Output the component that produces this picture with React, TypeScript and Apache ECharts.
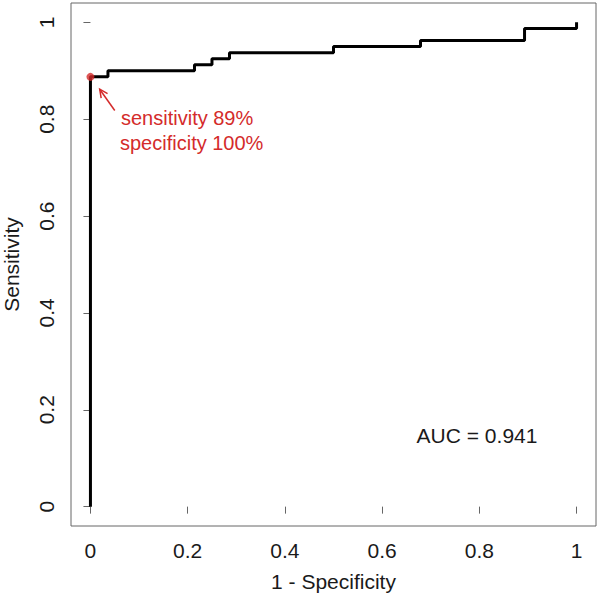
import React, { useEffect, useRef } from "react";
import * as echarts from "echarts";

// ROC curve corner points (step curve, horizontal then vertical)
const fpr = [0, 0, 0.036, 0.214, 0.25, 0.286, 0.5, 0.679, 0.893, 1];
const tpr = [0, 0.8875, 0.9, 0.9125, 0.925, 0.9375, 0.95, 0.9625, 0.9875, 1];
const tickValues = [0, 0.2, 0.4, 0.6, 0.8, 1];
const bestPoint = [0, 0.8875];
const bestLabel = ["sensitivity 89%", "specificity 100%"];
const aucLabel = "AUC = 0.941";
const arrowTail = [0.05, 0.818];
const arrowHead = [0.019, 0.862];

const FONT = "'Liberation Sans', Arial, sans-serif";
const RED = "#d42b2b";
const TXT = "#1a1a1a";

const fmt = (v: number) => (v === 0 ? "0" : v === 1 ? "1" : String(v));

export default function App() {
  const ref = useRef<HTMLDivElement>(null);
  useEffect(() => {
    if (!ref.current) return;
    const chart = echarts.init(ref.current, undefined, { renderer: "svg" });
    const axisCommon = {
      type: "value" as const,
      min: -0.04,
      max: 1.04,
      axisLine: { show: false },
      splitLine: { show: false },
      axisTick: {
        show: true,
        length: 7,
        inside: false,
        customValues: tickValues,
        lineStyle: { color: "#666", width: 1 },
      },
      nameLocation: "middle" as const,
      nameTextStyle: { fontFamily: FONT, fontSize: 21, color: TXT },
    };
    chart.setOption({
      animation: false,
      backgroundColor: "#fff",
      grid: {
        left: 71,
        right: 4,
        top: 3,
        bottom: 74,
        show: true,
        borderColor: "#666",
        borderWidth: 1,
        backgroundColor: "transparent",
        containLabel: false,
        outerBoundsMode: "none",
      },
      xAxis: {
        ...axisCommon,
        name: "1 - Specificity",
        nameGap: 45,
        axisLabel: {
          customValues: tickValues,
          formatter: fmt,
          margin: 14,
          fontFamily: FONT,
          fontSize: 21,
          color: TXT,
        },
      },
      yAxis: {
        ...axisCommon,
        name: "Sensitivity",
        nameGap: 49,
        axisLabel: {
          customValues: tickValues,
          formatter: fmt,
          rotate: 90,
          margin: 14,
          fontFamily: FONT,
          fontSize: 21,
          color: TXT,
        },
      },
      series: [
        {
          type: "line",
          step: "end",
          data: fpr.map((x, i) => [x, tpr[i]]),
          showSymbol: false,
          lineStyle: { color: "#000", width: 3 },
          z: 2,
        },
        {
          type: "scatter",
          data: [bestPoint],
          symbolSize: 8,
          itemStyle: { color: RED },
          z: 3,
        },
      ],
    });

    const tail = chart.convertToPixel({ gridIndex: 0 }, arrowTail) as number[];
    const head = chart.convertToPixel({ gridIndex: 0 }, arrowHead) as number[];
    const ang = Math.atan2(tail[1] - head[1], tail[0] - head[0]);
    const hl = 9;
    const spread = 0.45;
    const h1 = [head[0] + hl * Math.cos(ang + spread), head[1] + hl * Math.sin(ang + spread)];
    const h2 = [head[0] + hl * Math.cos(ang - spread), head[1] + hl * Math.sin(ang - spread)];

    chart.setOption({
      graphic: [
        {
          type: "line",
          shape: { x1: tail[0], y1: tail[1], x2: head[0], y2: head[1] },
          style: { stroke: RED, lineWidth: 1.5 },
        },
        {
          type: "polyline",
          shape: { points: [h1, head, h2] },
          style: { stroke: RED, lineWidth: 1.5, fill: "none" },
        },
        {
          type: "text",
          x: 121,
          y: 118,
          style: {
            text: bestLabel[0],
            fill: RED,
            font: `20px ${FONT}`,
            textVerticalAlign: "middle",
          },
        },
        {
          type: "text",
          x: 120,
          y: 143,
          style: {
            text: bestLabel[1],
            fill: RED,
            font: `20px ${FONT}`,
            textVerticalAlign: "middle",
          },
        },
        {
          type: "text",
          x: 477,
          y: 435,
          style: {
            text: aucLabel,
            fill: TXT,
            font: `21px ${FONT}`,
            textAlign: "center",
            textVerticalAlign: "middle",
          },
        },
      ],
    });

    return () => chart.dispose();
  }, []);
  return <div ref={ref} style={{ width: 600, height: 600, position: "absolute", left: 0, top: 0 }} />;
}
